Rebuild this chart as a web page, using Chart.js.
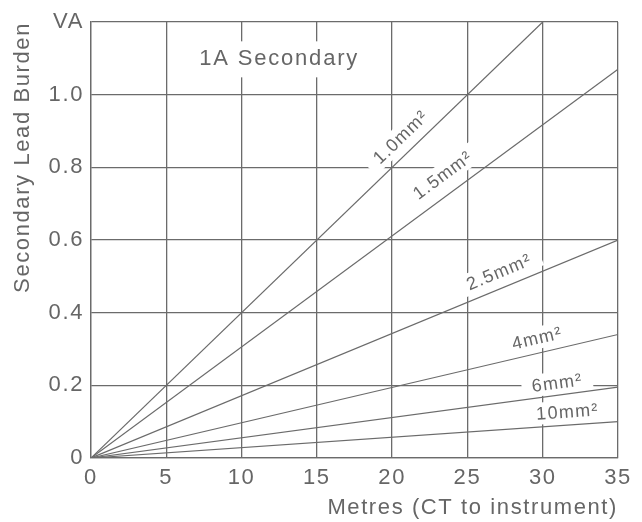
<!DOCTYPE html>
<html>
<head>
<meta charset="utf-8">
<script src="https://cdn.jsdelivr.net/npm/chart.js@4"></script>
<style>
  body { margin: 0; background: #fff; }
  canvas { display: block; }
</style>
</head>
<body>
<canvas id="burden" width="642" height="522"></canvas>
<script>
// cable sizes and where each line ends (metres, VA)
const sizes = ["1.0mm²", "1.5mm²", "2.5mm²", "4mm²", "6mm²", "10mm²"];
const endMetres = [30, 35, 35, 35, 35, 35];
const endBurden = [1.2, 1.07, 0.6, 0.34, 0.195, 0.1];
const yTickText = ["0", "0.2", "0.4", "0.6", "0.8", "1.0", "VA"];

const ink = "#6b6b6b";
const textInk = "#666666";
const fontFamily = "'Liberation Sans', Arial, sans-serif";

// label placement along each line (metres) and lift above the line (px)
const labelAt = [21.3, 24.1, 27.5, 29.85, 31.06, 31.7];
const labelLift = [15, 18, 15, 14, 11.5, 12.5];

const spacing = {
  id: "spacing",
  beforeLayout(chart) {
    chart.ctx.letterSpacing = "1.6px";
  },
  beforeDraw(chart) {
    chart.ctx.letterSpacing = "1.6px";
  },
};

const lineLabels = {
  id: "lineLabels",
  beforeDatasetsDraw(chart) {
    const { ctx } = chart;
    const x = chart.scales.x;
    const y = chart.scales.y;

    ctx.save();
    ctx.textAlign = "center";
    ctx.textBaseline = "middle";

    // title box
    ctx.letterSpacing = "1.8px";
    ctx.font = "22px " + fontFamily;
    const tx = x.getPixelForValue(12.5);
    const ty = y.getPixelForValue(1.1);
    const tw = ctx.measureText("1A Secondary").width;
    ctx.fillStyle = "#fff";
    ctx.fillRect(tx - tw / 2 - 14, ty - 17, tw + 28, 36);
    ctx.fillStyle = textInk;
    ctx.fillText("1A Secondary", tx, ty + 1);

    ctx.letterSpacing = "1.3px";
    ctx.font = "18px " + fontFamily;
    sizes.forEach((name, i) => {
      const slope = endBurden[i] / endMetres[i];
      const px = x.getPixelForValue(labelAt[i]);
      const py = y.getPixelForValue(slope * labelAt[i]);
      const dx = x.getPixelForValue(endMetres[i]) - x.getPixelForValue(0);
      const dy = y.getPixelForValue(endBurden[i]) - y.getPixelForValue(0);
      const ang = Math.atan2(dy, dx);
      const cx = px + labelLift[i] * Math.sin(ang);
      const cy = py - labelLift[i] * Math.cos(ang);
      const w = ctx.measureText(name).width;

      ctx.save();
      ctx.translate(cx, cy);
      ctx.rotate(ang);
      ctx.fillStyle = "#fff";
      ctx.fillRect(-w / 2 - 10, -12, w + 20, 22);
      ctx.fillStyle = textInk;
      ctx.fillText(name, 0, 0);
      ctx.restore();
    });
    ctx.restore();
  },
};

new Chart(document.getElementById("burden"), {
  type: "scatter",
  data: {
    datasets: sizes.map((name, i) => ({
      label: name,
      data: [
        { x: 0, y: 0 },
        { x: endMetres[i], y: endBurden[i] },
      ],
      showLine: true,
      borderColor: ink,
      borderWidth: 1.2,
      pointRadius: 0,
    })),
  },
  options: {
    responsive: false,
    animation: false,
    layout: { padding: { top: 22, right: 24, left: 0, bottom: 0 } },
    plugins: {
      legend: { display: false },
      tooltip: { enabled: false },
    },
    scales: {
      x: {
        type: "linear",
        min: 0,
        max: 35,
        ticks: {
          stepSize: 5,
          color: textInk,
          font: { family: fontFamily, size: 22 },
          padding: 7,
          maxRotation: 0,
        },
        grid: { color: ink, lineWidth: 1.3, drawTicks: false },
        border: { color: ink, width: 1.3 },
        title: {
          display: true,
          text: "Metres (CT to instrument)",
          align: "end",
          color: textInk,
          font: { family: fontFamily, size: 22 },
          padding: { top: 0, bottom: 1 },
        },
        afterFit(scale) {
          scale.height = 64;
        },
      },
      y: {
        min: 0,
        max: 1.2,
        ticks: {
          stepSize: 0.2,
          color: textInk,
          font: { family: fontFamily, size: 22 },
          padding: 7,
          callback: (value) => yTickText[Math.round(value / 0.2)],
        },
        grid: { color: ink, lineWidth: 1.3, drawTicks: false },
        border: { color: ink, width: 1.3 },
        title: {
          display: true,
          text: "Secondary Lead Burden",
          align: "end",
          color: textInk,
          font: { family: fontFamily, size: 22 },
          padding: { top: 10, bottom: 0 },
        },
        afterFit(scale) {
          scale.width = 91;
        },
      },
    },
  },
  plugins: [spacing, lineLabels],
});
</script>
</body>
</html>
